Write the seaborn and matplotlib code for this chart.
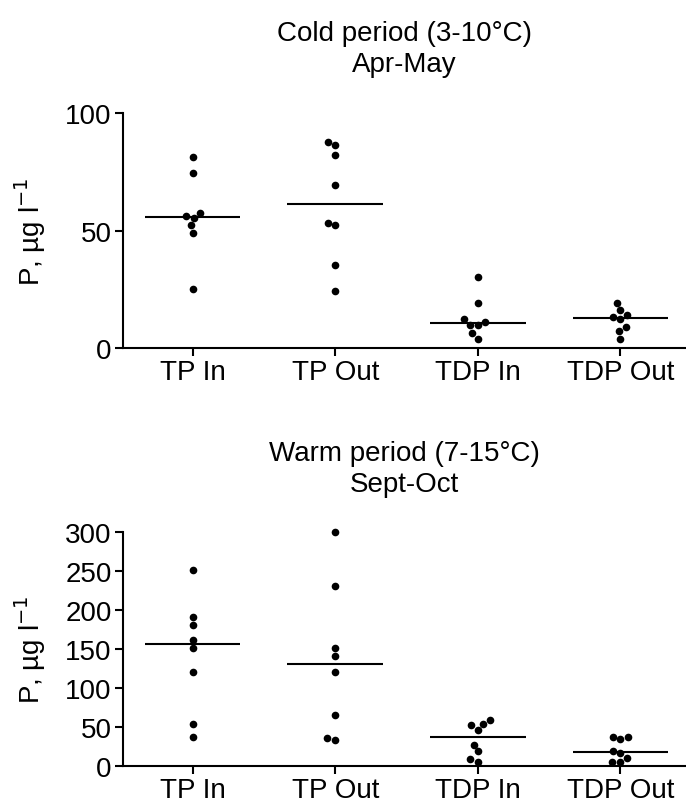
import matplotlib
matplotlib.use("Agg")
import matplotlib.pyplot as plt
import numpy as np
import pandas as pd
import seaborn as sns

# Categories and values (P, ug/l)
groups = ["TP In", "TP Out", "TDP In", "TDP Out"]

cold_tp_in = [81.3, 74.4, 57.3, 55.4, 56.3, 52.3, 49.1, 25.2]
cold_tp_out = [87.5, 86.5, 82.3, 69.2, 52.3, 53.3, 35.2, 24.2]
cold_tdp_in = [30.3, 19.2, 12.3, 10.1, 10.1, 11.3, 6.3, 4.1]
cold_tdp_out = [19.2, 16.2, 14.2, 13.1, 12.3, 9.1, 7.3, 4.1]

warm_tp_in = [251.3, 191.5, 180.8, 161.1, 150.9, 120.9, 53.8, 37.6]
warm_tp_out = [300.0, 231.2, 151.3, 141.0, 120.9, 65.0, 33.8, 36.3]
warm_tdp_in = [59.0, 53.8, 46.6, 52.6, 27.4, 18.8, 5.6, 9.0]
warm_tdp_out = [37.6, 35.0, 37.6, 18.8, 16.2, 10.7, 4.7, 4.7]

cold_title = "Cold period (3-10\u00b0C)\nApr-May"
warm_title = "Warm period (7-15\u00b0C)\nSept-Oct"
cold_ticks = [0, 50, 100]
warm_ticks = [0, 50, 100, 150, 200, 250, 300]


def long_table(series):
    rows = []
    for g, vals in zip(groups, series):
        for v in vals:
            rows.append({"group": g, "value": v})
    return pd.DataFrame(rows)


sns.set_style("ticks")
plt.rcParams["font.family"] = ["Liberation Sans", "DejaVu Sans"]
plt.rcParams["text.color"] = "black"
plt.rcParams["axes.labelcolor"] = "black"
plt.rcParams["axes.edgecolor"] = "black"
plt.rcParams["axes.linewidth"] = 1.5
plt.rcParams["xtick.major.width"] = 1.5
plt.rcParams["ytick.major.width"] = 1.5
plt.rcParams["xtick.major.size"] = 6
plt.rcParams["ytick.major.size"] = 6

fig = plt.figure(figsize=(6.86, 8.03), dpi=100)
ax1 = fig.add_axes([0.179, 0.565, 0.821, 0.293])
ax2 = fig.add_axes([0.179, 0.045, 0.821, 0.291])

panels = [
    (ax1, [cold_tp_in, cold_tp_out, cold_tdp_in, cold_tdp_out], cold_title, cold_ticks),
    (ax2, [warm_tp_in, warm_tp_out, warm_tdp_in, warm_tdp_out], warm_title, warm_ticks),
]

for ax, series, title, ticks in panels:
    df = long_table(series)
    sns.swarmplot(data=df, x="group", y="value", order=groups, color="black",
                  size=5.5, ax=ax)
    for coll in ax.collections:
        coll.set_clip_on(False)
    # median line per group
    med = df.groupby("group")["value"].median().reindex(groups).values
    pos = np.arange(len(groups))
    ax.hlines(med, pos - 0.335, pos + 0.335, color="black", lw=1.5)

    ax.set_xlim(-0.49, 3.46)
    ax.set_ylim(ticks[0], ticks[-1])
    ax.set_yticks(ticks)
    ax.set_xlabel("")
    ax.set_ylabel(r"P, µg l$^{-1}$", fontsize=20)
    ax.yaxis.set_label_coords(-0.133, 0.5)
    ax.set_title(title, fontsize=20, pad=30, linespacing=1.25, color="black")
    ax.tick_params(axis="both", labelsize=20, colors="black", pad=2)
    sns.despine(ax=ax)

fig.savefig("out.png", dpi=100)
